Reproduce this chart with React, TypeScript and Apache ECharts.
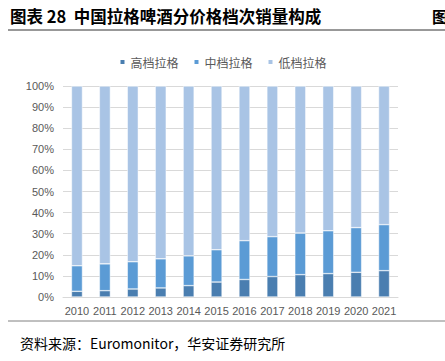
import React, { useEffect, useRef } from "react";
import * as echarts from "echarts";

const years = ["2010","2011","2012","2013","2014","2015","2016","2017","2018","2019","2020","2021"];
const highShare = [2.7, 3.0, 3.8, 4.3, 5.4, 7.1, 8.3, 9.7, 10.6, 11.1, 11.7, 12.5];
const midPlusHigh = [14.8, 15.7, 16.7, 18.1, 19.5, 22.4, 26.7, 28.6, 30.3, 31.4, 32.9, 34.3];
const seriesNames = ["高档拉格", "中档拉格", "低档拉格"];
const colors = ["#4A7EB0", "#5B9BD5", "#A9C4E5"];

const midShare = midPlusHigh.map((t, i) => +(t - highShare[i]).toFixed(1));
const lowShare = midPlusHigh.map((t) => +(100 - t).toFixed(1));

export default function App() {
  const ref = useRef<HTMLDivElement>(null);
  useEffect(() => {
    if (!ref.current) return;
    const chart = echarts.init(ref.current, null, { renderer: "svg" });
    const data = [highShare, midShare, lowShare];
    chart.setOption({
      animation: false,
      backgroundColor: "#ffffff",
      textStyle: { fontFamily: "Liberation Sans, Arial, sans-serif" },
      legend: {
        top: 51,
        left: "center",
        itemWidth: 6,
        itemHeight: 6,
        itemGap: 14,
        icon: "rect",
        textStyle: { fontSize: 12, color: "#595959", fontFamily: "Noto Sans CJK SC" },
        data: seriesNames,
      },
      grid: { left: 63, right: 47, top: 86, bottom: 64, containLabel: false },
      xAxis: {
        type: "category",
        data: years,
        axisLine: { lineStyle: { color: "#D9D9D9" } },
        axisTick: { show: false },
        axisLabel: { color: "#595959", fontSize: 11, margin: 8, interval: 0 },
      },
      yAxis: {
        type: "value",
        min: 0,
        max: 100,
        interval: 10,
        axisLine: { show: false },
        axisTick: { show: false },
        splitLine: { lineStyle: { color: "#D9D9D9" } },
        axisLabel: { color: "#595959", fontSize: 11, margin: 9, formatter: "{value}%" },
      },
      series: seriesNames.map((name, i) => ({
        name,
        type: "bar",
        stack: "total",
        barWidth: 11,
        data: data[i],
        itemStyle: { color: colors[i], borderColor: "#ffffff", borderWidth: 0.5 },
      })),
      graphic: [
        {
          type: "text",
          left: 10,
          top: 8,
          style: {
            text: "图表 28  中国拉格啤酒分价格档次销量构成",
            font: "bold 16.5px 'Noto Sans CJK SC', sans-serif",
            fill: "#000000",
          },
        },
        {
          type: "text",
          left: 432,
          top: 8,
          style: {
            text: "图",
            font: "bold 16px 'Noto Sans CJK SC', sans-serif",
            fill: "#000000",
          },
        },
        {
          type: "line",
          shape: { x1: 8, y1: 30, x2: 445, y2: 30 },
          style: { stroke: "#333333", lineWidth: 1 },
        },
        {
          type: "line",
          shape: { x1: 8, y1: 321, x2: 445, y2: 321 },
          style: { stroke: "#808080", lineWidth: 1 },
        },
        {
          type: "text",
          left: 20,
          top: 336,
          style: {
            text: "资料来源：Euromonitor，华安证券研究所",
            font: "14px 'Noto Sans CJK SC', sans-serif",
            fill: "#000000",
          },
        },
      ],
    });
    return () => chart.dispose();
  }, []);
  return (
    <div
      ref={ref}
      style={{ position: "fixed", left: 0, top: 0, width: 445, height: 361 }}
    />
  );
}
